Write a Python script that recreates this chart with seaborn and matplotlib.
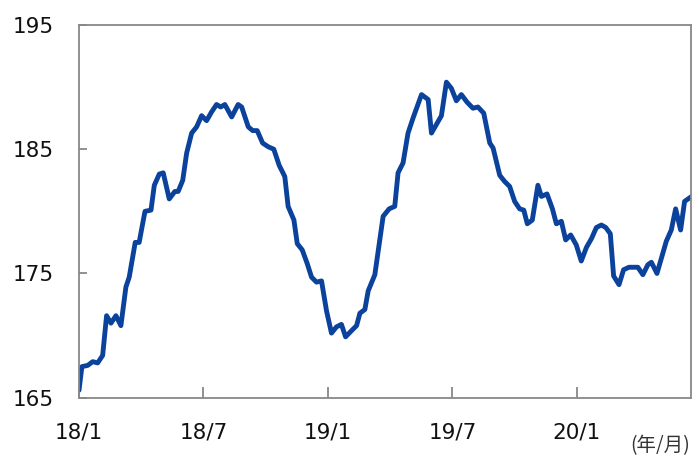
import matplotlib
matplotlib.use("Agg")
import matplotlib.pyplot as plt
import seaborn as sns
import pandas as pd

# months elapsed since 2018/1
months = [0.00, 0.14, 0.42, 0.66, 0.90, 1.14, 1.33, 1.54, 1.78, 2.02, 2.26, 2.42, 2.71, 2.90,
          3.18, 3.47, 3.63, 3.87, 4.06, 4.35, 4.62, 4.78, 5.00, 5.19, 5.43, 5.67, 5.91, 6.15,
          6.39, 6.63, 6.83, 7.03, 7.36, 7.67, 7.84, 8.16, 8.37, 8.59, 8.85, 9.12, 9.39, 9.65,
          9.92, 10.08, 10.36, 10.52, 10.76, 11.00, 11.21, 11.45, 11.69, 11.93, 12.17, 12.41,
          12.65, 12.85, 13.14, 13.38, 13.54, 13.78, 13.94, 14.26, 14.66, 14.95, 15.22, 15.38,
          15.62, 15.86, 16.10, 16.51, 16.83, 16.99, 17.47, 17.71, 17.95, 18.19, 18.43, 18.70,
          18.99, 19.23, 19.51, 19.80, 19.96, 20.28, 20.52, 20.76, 21.00, 21.24, 21.44, 21.61,
          21.85, 22.12, 22.29, 22.56, 22.82, 23.01, 23.25, 23.46, 23.70, 23.97, 24.21, 24.46,
          24.70, 24.94, 25.18, 25.39, 25.61, 25.77, 26.03, 26.25, 26.51, 26.94, 27.18, 27.42,
          27.59, 27.86, 28.12, 28.31, 28.55, 28.76, 29.00, 29.19, 29.53]
values = [165.6, 167.5, 167.6, 167.9, 167.8, 168.4, 171.6, 171.0, 171.6, 170.8, 173.9, 174.7, 177.5, 177.5,
          180.0, 180.1, 182.1, 183.0, 183.1, 181.0, 181.6, 181.6, 182.5, 184.7, 186.3, 186.8, 187.7, 187.3,
          188.0, 188.6, 188.4, 188.6, 187.6, 188.6, 188.4, 186.8, 186.5, 186.5, 185.5, 185.2, 185.0, 183.7,
          182.8, 180.4, 179.3, 177.4, 176.9, 175.8, 174.7, 174.3, 174.4, 172.0, 170.2, 170.7,
          170.9, 169.9, 170.4, 170.8, 171.8, 172.1, 173.6, 174.9, 179.6, 180.2, 180.4, 183.1,
          183.9, 186.3, 187.5, 189.4, 189.0, 186.3, 187.7, 190.4, 189.9, 188.9, 189.4, 188.8,
          188.3, 188.4, 187.9, 185.5, 185.1, 182.9, 182.4, 182.0, 180.8, 180.2, 180.1, 179.0,
          179.3, 182.1, 181.2, 181.4, 180.2, 179.0, 179.2, 177.7, 178.1, 177.3, 176.0, 177.1,
          177.8, 178.7, 178.9, 178.7, 178.2, 174.8, 174.1, 175.3, 175.5, 175.5, 174.9, 175.7,
          175.9, 175.0, 176.5, 177.6, 178.5, 180.2, 178.5, 180.8, 181.2]

tick_pos = [0, 6, 12, 18, 24]
tick_labels = ["18/1", "18/7", "19/1", "19/7", "20/1"]
y_ticks = [165, 175, 185, 195]

sns.set_theme(style="white")
plt.rcParams['font.family'] = ['DejaVu Sans', 'Noto Sans CJK JP']

df = pd.DataFrame({"month": months, "value": values})

fig = plt.figure(figsize=(6.97, 4.55), dpi=100)
ax = fig.add_axes([79 / 697, 1 - 397.7 / 455, (691 - 79) / 697, (397.7 - 25) / 455])

sns.lineplot(data=df, x="month", y="value", sort=False, ax=ax,
             color="#0B429C", linewidth=3.5, solid_joinstyle="round")

ax.set_xlim(0, 29.5)
ax.set_ylim(165, 195)
ax.set_xticks(tick_pos)
ax.set_xticklabels(tick_labels)
ax.set_yticks(y_ticks)
ax.set_xlabel("")
ax.set_ylabel("")

for s in ax.spines.values():
    s.set_color("#888888")
    s.set_linewidth(1.3)
    s.set_visible(True)

ax.tick_params(axis="both", direction="in", colors="#888888", labelcolor="#111111",
               labelsize=15.5, width=1.3)
ax.tick_params(axis="x", length=8, pad=18, bottom=True)
ax.tick_params(axis="y", length=6, pad=18, left=True)

fig.text(660 / 697, 1 - 446 / 455, "(年/月)", ha="center", va="center",
         fontsize=14, color="#333333", family=['Noto Sans CJK JP', 'DejaVu Sans'])

fig.savefig("out.png", dpi=100)
